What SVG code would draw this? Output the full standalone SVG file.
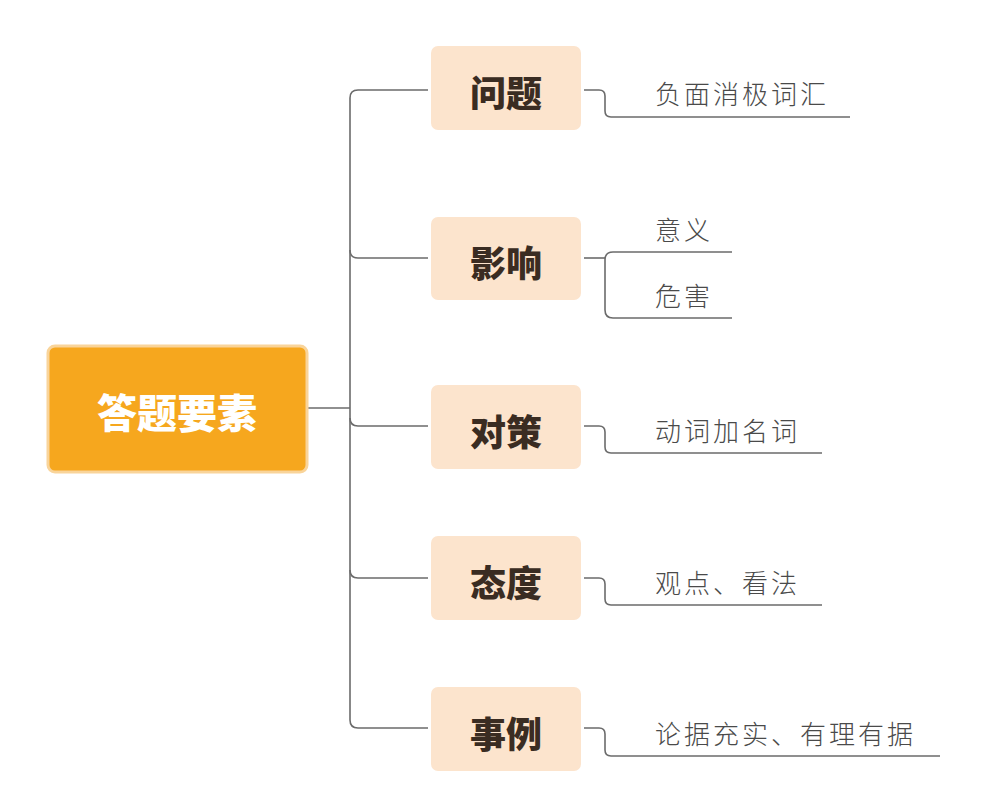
<svg xmlns="http://www.w3.org/2000/svg" width="985" height="801" viewBox="0 0 985 801">
<style>
.bg{fill:#ffffff}
.root rect{fill:#F6A71E;stroke:#F9D49A;stroke-width:3}
.root text{fill:#ffffff;font-family:"Noto Sans CJK SC",sans-serif;font-weight:900;font-size:40px;text-anchor:middle;dominant-baseline:central}
.main rect{fill:#FCE4CD}
.main text{fill:#3A2C22;font-family:"Noto Sans CJK SC",sans-serif;font-weight:900;font-size:36px;text-anchor:middle;dominant-baseline:central}
.leaf text{fill:#4A4A4A;font-family:"Noto Sans CJK SC",sans-serif;font-weight:300;font-size:26px;letter-spacing:3px}
.conn path{fill:none;stroke:#6B6B6B;stroke-width:1.6}
</style>
<rect class="bg" x="0" y="0" width="985" height="801"/>
<g id="connectors" class="conn">
<path d="M307 408 H350"/>
<path d="M428 90 H358 Q350 90 350 98 V720 Q350 728 358 728 H428"/>
<path d="M350 250 Q350 258 358 258 H428"/>
<path d="M350 418 Q350 426 358 426 H428"/>
<path d="M350 570 Q350 578 358 578 H428"/>
<path d="M584 90 H599 Q605 90 605 96 V111 Q605 117 611 117 H850"/>
<path d="M584 258 H605"/>
<path d="M732 252 H613 Q605 252 605 260 V310 Q605 318 613 318 H732"/>
<path d="M584 426 H599 Q605 426 605 432 V447 Q605 453 611 453 H822"/>
<path d="M584 578 H599 Q605 578 605 584 V599 Q605 605 611 605 H822"/>
<path d="M584 728 H599 Q605 728 605 734 V750 Q605 756 611 756 H940"/>
</g>
<g id="root" class="root"><rect x="48" y="346" width="259" height="126" rx="7"/><text x="177" y="411">答题要素</text></g>
<g id="n1" class="main"><rect x="431" y="46" width="150" height="84" rx="7"/><text x="506" y="91">问题</text></g>
<g id="n2" class="main"><rect x="431" y="217" width="150" height="83" rx="7"/><text x="506" y="261">影响</text></g>
<g id="n3" class="main"><rect x="431" y="385" width="150" height="84" rx="7"/><text x="506" y="430">对策</text></g>
<g id="n4" class="main"><rect x="431" y="536" width="150" height="84" rx="7"/><text x="506" y="581">态度</text></g>
<g id="n5" class="main"><rect x="431" y="687" width="150" height="84" rx="7"/><text x="506" y="732">事例</text></g>
<g id="l1" class="leaf"><text x="655" y="104">负面消极词汇</text></g>
<g id="l2a" class="leaf"><text x="655" y="240">意义</text></g>
<g id="l2b" class="leaf"><text x="655" y="306">危害</text></g>
<g id="l3" class="leaf"><text x="655" y="441">动词加名词</text></g>
<g id="l4" class="leaf"><text x="655" y="593">观点、看法</text></g>
<g id="l5" class="leaf"><text x="655" y="744">论据充实、有理有据</text></g>
</svg>
